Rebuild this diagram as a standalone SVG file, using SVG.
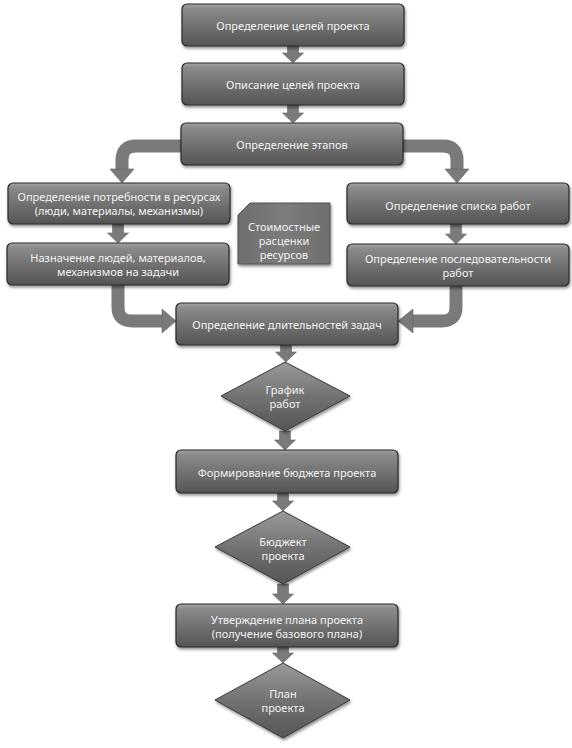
<svg xmlns="http://www.w3.org/2000/svg" width="572" height="748" viewBox="0 0 572 748">
<defs>
<linearGradient id="gBox" x1="0" y1="0" x2="0" y2="1">
<stop offset="0" stop-color="#a2a2a2"/>
<stop offset="0.12" stop-color="#8a8a8a"/>
<stop offset="0.6" stop-color="#6c6c6c"/>
<stop offset="1" stop-color="#555555"/>
</linearGradient>
<linearGradient id="gDia" x1="0" y1="0" x2="0" y2="1">
<stop offset="0" stop-color="#9a9a9a"/>
<stop offset="0.5" stop-color="#727272"/>
<stop offset="1" stop-color="#555555"/>
</linearGradient>
<linearGradient id="gDoc" x1="0" y1="0" x2="1" y2="0">
<stop offset="0" stop-color="#6e6e6e"/>
<stop offset="0.5" stop-color="#7c7c7c"/>
<stop offset="1" stop-color="#6e6e6e"/>
</linearGradient>
<filter id="sh" x="-10%" y="-10%" width="125%" height="135%">
<feDropShadow dx="1" dy="2" stdDeviation="1.5" flood-color="#000" flood-opacity="0.45"/>
</filter>
</defs>
<style>
.box{fill:url(#gBox);stroke:#2a2a2a;stroke-width:1.2;filter:url(#sh)}
.dia{fill:url(#gDia);stroke:#3a3a3a;stroke-width:1;filter:url(#sh)}
.doc{fill:url(#gDoc);stroke:#555;stroke-width:1;filter:url(#sh)}
.t{font-family:"Noto Sans","DejaVu Sans",sans-serif;font-size:11px;fill:#f2f2f2;text-anchor:middle;dominant-baseline:central}
.ar{fill:#7a7a7a;stroke:#666;stroke-width:0.6}
.cv{fill:none;stroke:#7a7a7a;stroke-width:13}
</style>
<rect width="572" height="748" fill="#ffffff"/>
<g id="connectors">
<polygon class="ar" points="287.5,46 298.5,46 298.5,53 303.5,53 293,63 282.5,53 287.5,53"/>
<polygon class="ar" points="287.5,105 298.5,105 298.5,113 303.5,113 293,123 282.5,113 287.5,113"/>
<polygon class="ar" points="112.5,224 123.5,224 123.5,233 128.5,233 118,243 107.5,233 112.5,233"/>
<polygon class="ar" points="450.5,224 461.5,224 461.5,234 466.5,234 456,244 445.5,234 450.5,234"/>
<polygon class="ar" points="280.5,345 291.5,345 291.5,352 296.5,352 286,362 275.5,352 280.5,352"/>
<polygon class="ar" points="279.5,431 290.5,431 290.5,440 295.5,440 285,450 274.5,440 279.5,440"/>
<polygon class="ar" points="277.5,493 288.5,493 288.5,501 293.5,501 283,511 272.5,501 277.5,501"/>
<polygon class="ar" points="277.5,584 288.5,584 288.5,594 293.5,594 283,604 272.5,594 277.5,594"/>
<polygon class="ar" points="277.5,645 288.5,645 288.5,653 293.5,653 283,663 272.5,653 277.5,653"/>
<path class="cv" d="M182,146 H136 Q122,146 122,160 V171"/>
<polygon class="ar" points="110,169 134,169 122,183"/>
<path class="cv" d="M402,146 H443 Q457,146 457,160 V171"/>
<polygon class="ar" points="445,169 469,169 457,183"/>
<path class="cv" d="M118,285 V307 Q118,321 132,321 H164"/>
<polygon class="ar" points="162,309 162,333 176,321"/>
<path class="cv" d="M456,286 V307 Q456,321 442,321 H411"/>
<polygon class="ar" points="413,309 413,333 398,321"/>
</g>
<g id="n1"><rect class="box" x="182" y="4" width="222" height="42" rx="5"/><text class="t" x="293" y="25">Определение целей проекта</text></g>
<g id="n2"><rect class="box" x="182" y="63" width="222" height="42" rx="5"/><text class="t" x="293" y="84">Описание целей проекта</text></g>
<g id="n3"><rect class="box" x="181" y="123" width="222" height="42" rx="5"/><text class="t" x="292" y="144">Определение этапов</text></g>
<g id="n4"><rect class="box" x="8" y="183" width="222" height="41" rx="5"/><text class="t" x="119" y="196">Определение потребности в ресурсах</text><text class="t" x="119" y="210">(люди, материалы, механизмы)</text></g>
<g id="n5"><rect class="box" x="7" y="243" width="222" height="42" rx="5"/><text class="t" x="118" y="257">Назначение людей, материалов,</text><text class="t" x="118" y="271">механизмов на задачи</text></g>
<g id="n6"><polygon class="doc" points="250,203 330,203 330,264 238,264 238,215"/><text class="t" x="284" y="226">Стоимостные</text><text class="t" x="284" y="240">расценки</text><text class="t" x="284" y="254">ресурсов</text></g>
<g id="n7"><rect class="box" x="347" y="183" width="222" height="41" rx="5"/><text class="t" x="458" y="205">Определение списка работ</text></g>
<g id="n8"><rect class="box" x="347" y="244" width="222" height="42" rx="5"/><text class="t" x="458" y="258">Определение последовательности</text><text class="t" x="458" y="272">работ</text></g>
<g id="n9"><rect class="box" x="176" y="303" width="222" height="42" rx="5"/><text class="t" x="287" y="324">Определение длительностей задач</text></g>
<g id="n10"><polygon class="dia" points="285,362 350,396 285,431 221,396"/><text class="t" x="285" y="389">График</text><text class="t" x="285" y="403">работ</text></g>
<g id="n11"><rect class="box" x="176" y="450" width="222" height="43" rx="5"/><text class="t" x="287" y="472">Формирование бюджета проекта</text></g>
<g id="n12"><polygon class="dia" points="283,511 350,547 283,584 215,547"/><text class="t" x="283" y="541">Бюджект</text><text class="t" x="283" y="555">проекта</text></g>
<g id="n13"><rect class="box" x="176" y="604" width="222" height="43" rx="5"/><text class="t" x="287" y="619">Утверждение плана проекта</text><text class="t" x="287" y="633">(получение базового плана)</text></g>
<g id="n14"><polygon class="dia" points="283,663 350,700 283,738 215,700"/><text class="t" x="283" y="693">План</text><text class="t" x="283" y="707">проекта</text></g>
</svg>
